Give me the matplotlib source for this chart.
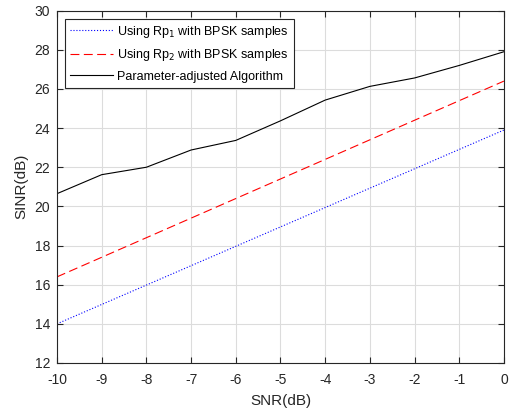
import matplotlib
matplotlib.use("Agg")
import matplotlib.pyplot as plt

plt.rcParams['font.family'] = ['Liberation Sans', 'DejaVu Sans']
plt.rcParams['axes.unicode_minus'] = False

snr = [-10, -9, -8, -7, -6, -5, -4, -3, -2, -1, 0]
rp1 = [14.0, 14.99, 15.98, 16.97, 17.96, 18.95, 19.94, 20.93, 21.92, 22.91, 23.9]
rp2 = [16.4, 17.4, 18.4, 19.4, 20.4, 21.4, 22.4, 23.4, 24.4, 25.4, 26.4]
adj = [20.65, 21.62, 22.0, 22.88, 23.37, 24.37, 25.43, 26.13, 26.56, 27.2, 27.9]
xticks = list(range(-10, 1))
yticks = list(range(12, 31, 2))

fig = plt.figure(figsize=(5.09, 4.09), dpi=100)
ax = fig.add_axes([0.112, 0.1125, 0.878, 0.8615])

ax.plot(snr, rp1, linestyle=':', color='#0000ff', lw=0.8,
        label=r'Using Rp$_1$ with BPSK samples')
ax.plot(snr, rp2, linestyle=(0, (8, 4)), color='#ff0000', lw=0.8,
        label=r'Using Rp$_2$ with BPSK samples')
ax.plot(snr, adj, linestyle='-', color='black', lw=0.8,
        label='Parameter-adjusted Algorithm')

ax.set_xlim(-10, 0)
ax.set_ylim(12, 30)
ax.set_xticks(xticks)
ax.set_yticks(yticks)
ax.grid(True, color='#dcdcdc', lw=0.8)
ax.set_axisbelow(True)
ax.tick_params(direction='in', top=True, right=True, labelsize=10, length=4, width=0.8, colors='#262626')
ax.tick_params(axis='x', pad=7)
ax.tick_params(axis='y', pad=5)
for s in ax.spines.values():
    s.set_color('#262626')
    s.set_linewidth(0.8)
ax.set_xlabel('SNR(dB)', fontsize=11, color='#262626', labelpad=5)
ax.set_ylabel('SINR(dB)', fontsize=11, color='#262626', labelpad=4)

leg = ax.legend(loc='upper left', fontsize=9, fancybox=False, framealpha=1,
                edgecolor='#262626', borderaxespad=0.65, handlelength=3.4,
                handletextpad=0.35, labelspacing=0.6, borderpad=0.4)
leg.get_frame().set_linewidth(0.8)

fig.savefig('out.png', dpi=100)
